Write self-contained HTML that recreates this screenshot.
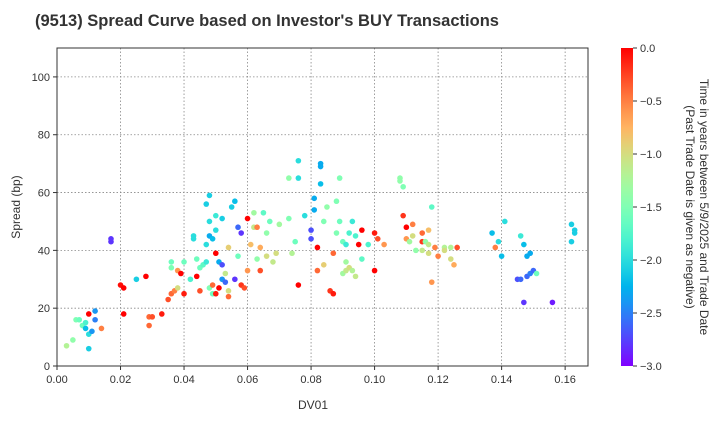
<!DOCTYPE html>
<html><head><meta charset="utf-8"><style>
body{margin:0;background:#fff;font-family:"Liberation Sans",Arial,sans-serif;}
svg text{font-family:"Liberation Sans",Arial,sans-serif;fill:#333;}
</style></head><body>
<svg id="chart" width="720" height="420" viewBox="0 0 720 420">
<text x="35" y="26" font-size="16.5" font-weight="bold" fill="#222">(9513)   Spread Curve based on Investor's BUY Transactions</text>
<g id="grid"></g>
<g id="pts"></g>
<rect x="57" y="48" width="531" height="318" fill="none" stroke="#333" stroke-width="1"/>
<g id="axes"></g>
<text x="313" y="409" font-size="12" text-anchor="middle">DV01</text>
<text transform="translate(20,207) rotate(-90)" font-size="12" text-anchor="middle">Spread (bp)</text>
<defs><linearGradient id="cg" x1="0" y1="1" x2="0" y2="0"></linearGradient></defs>
<rect x="621" y="48" width="12" height="318" fill="url(#cg)"/>
<g id="cbar"></g>
<text transform="translate(700,207) rotate(90)" font-size="12" text-anchor="middle">Time in years between 5/9/2025 and Trade Date</text>
<text transform="translate(686,207) rotate(90)" font-size="12" text-anchor="middle">(Past Trade Date is given as negative)</text>
</svg>
<script>
const xTicks=[0,0.02,0.04,0.06,0.08,0.10,0.12,0.14,0.16];
const xTickLabels=["0.00","0.02","0.04","0.06","0.08","0.10","0.12","0.14","0.16"];
const yTicks=[0,20,40,60,80,100];
const cTicks=[0,-0.5,-1,-1.5,-2,-2.5,-3];
const cTickLabels=["0.0","−0.5","−1.0","−1.5","−2.0","−2.5","−3.0"];
const dv01=[0.003,0.005,0.006,0.007,0.008,0.009,0.009,0.010,0.010,0.010,0.011,0.012,0.012,0.014,0.017,0.017,0.020,0.021,0.021,0.025,0.028,0.029,0.029,0.030,0.033,0.035,0.036,0.037,0.036,0.036,0.038,0.038,0.039,0.040,0.040,0.042,0.043,0.043,0.044,0.044,0.045,0.045,0.046,0.047,0.047,0.047,0.048,0.048,0.048,0.048,0.049,0.049,0.049,0.050,0.050,0.050,0.050,0.051,0.051,0.052,0.052,0.052,0.053,0.053,0.054,0.054,0.054,0.055,0.056,0.056,0.057,0.057,0.058,0.058,0.059,0.060,0.060,0.061,0.062,0.062,0.063,0.063,0.064,0.064,0.065,0.066,0.066,0.067,0.068,0.069,0.070,0.073,0.073,0.074,0.075,0.076,0.076,0.076,0.078,0.080,0.080,0.081,0.081,0.082,0.082,0.083,0.083,0.083,0.084,0.084,0.085,0.086,0.087,0.087,0.088,0.088,0.089,0.089,0.090,0.090,0.091,0.091,0.091,0.092,0.092,0.093,0.093,0.094,0.094,0.095,0.096,0.096,0.098,0.100,0.100,0.101,0.103,0.108,0.108,0.109,0.109,0.110,0.110,0.111,0.112,0.112,0.113,0.115,0.115,0.115,0.116,0.117,0.117,0.117,0.118,0.118,0.119,0.120,0.122,0.122,0.124,0.124,0.125,0.126,0.137,0.138,0.139,0.140,0.141,0.145,0.146,0.146,0.147,0.147,0.148,0.149,0.148,0.149,0.150,0.151,0.156,0.162,0.163,0.163,0.162];
const spread=[7,9,16,16,14,13,15,11,6,18,12,19,16,13,43,44,28,27,18,30,31,17,14,17,18,23,25,26,34,36,27,33,32,25,36,30,45,44,37,31,26,34,35,36,42,56,59,50,45,27,28,25,44,52,47,39,25,36,27,51,30,35,32,29,41,26,24,55,57,30,38,48,46,28,27,51,33,42,48,53,37,48,41,33,53,38,46,50,36,39,49,65,51,39,43,71,65,28,52,47,44,58,54,41,33,70,69,63,35,50,55,26,25,39,57,46,65,50,43,32,42,36,33,46,34,50,33,31,45,42,47,37,42,46,33,44,42,65,64,62,52,48,44,43,49,45,40,46,43,40,43,47,42,39,55,29,41,38,41,40,41,37,35,41,46,41,43,38,50,30,45,30,22,42,38,39,31,32,33,32,22,49,47,46,43];
const years=[-1.2,-1.4,-1.5,-1.6,-1.6,-2.2,-1.8,-2.0,-2.1,0,-2.4,-2.4,-2.5,-0.5,-2.8,-2.8,-0.05,0,0,-2.1,0,-0.4,-0.4,-0.3,-0.1,-0.3,-0.4,-0.5,-1.5,-1.6,-1.0,-0.6,0,-0.1,-1.6,-1.8,-2.0,-2.0,-1.6,0,-0.3,-1.6,-1.7,-1.9,-2.0,-2.1,-2.1,-2.0,-2.3,-1.5,-0.4,-1.6,-2.2,-1.9,-2.0,0,-0.1,-2.3,0,-2.1,-2.4,-2.7,-1.1,-2.6,-0.9,-1.0,-0.4,-2.1,-2.2,-2.8,-1.6,-2.6,-2.8,-0.2,-0.3,0,-0.6,-0.8,-1.1,-1.3,-1.4,-0.5,-0.7,-0.3,-1.7,-1.0,-1.4,-1.6,-1.1,-1.0,-1.3,-1.4,-1.5,-1.2,-1.6,-2.0,-2.0,0,-2.0,-2.7,-2.7,-2.3,-2.3,0,-0.4,-2.3,-2.3,-2.2,-0.9,-1.5,-1.4,-0.2,-0.1,-0.4,-1.5,-1.5,-1.5,-1.6,-1.6,-1.3,-1.9,-1.3,-1.1,-1.8,-1.0,-1.9,-1.2,-1.1,-1.8,0,0,-1.7,-1.8,-0.1,0,-0.3,-0.6,-1.4,-1.4,-1.5,-0.2,0,-0.6,-1.3,-0.5,-1.0,-1.4,-0.4,-0.2,-1.1,-1.4,-0.8,-1.1,-1.0,-1.7,-0.6,-0.5,-0.5,-1.2,-1.0,-1.2,-1.0,-0.7,-0.3,-2.2,-0.5,-2.0,-2.2,-2.0,-2.7,-1.9,-2.6,-2.8,-2.2,-2.3,-2.3,-2.6,-2.5,-2.6,-1.6,-2.9,-2.1,-2.1,-2.1,-2.1];
const NS="http://www.w3.org/2000/svg";
const X0=57,X1=588,Y0=366,Y1=48;
const XMAX=0.1672;
const xs=v=>X0+(v-0)/(XMAX-0)*(X1-X0);
const ys=v=>Y0-(v-0)/(110-0)*(Y0-Y1);
const cs=v=>Y0-(v+3)/3*(Y0-Y1);
function rainbow(t){const x=(t+3)/3;const c=a=>Math.round(Math.max(0,Math.min(1,a))*255);
return `rgb(${c(Math.abs(2*x-0.5))},${c(Math.sin(Math.PI*x))},${c(Math.abs(Math.cos(Math.PI*x/2)))})`;}
function mk(tag,attrs,parent){const e=document.createElementNS(NS,tag);for(const k in attrs)e.setAttribute(k,attrs[k]);parent.appendChild(e);return e;}
const grid=document.getElementById('grid'),axes=document.getElementById('axes');
xTicks.forEach((v,i)=>{const x=xs(v);
const g=mk('line',{x1:x,x2:x,y1:Y1,y2:Y0,stroke:'#888','stroke-dasharray':'1.5,2','stroke-width':0.8},grid);


mk('line',{x1:x,x2:x,y1:Y0,y2:Y0+4,stroke:'#333'},axes);
const t=mk('text',{x:x,y:Y0+17,'font-size':11,'text-anchor':'middle'},axes);t.textContent=xTickLabels[i];

});
yTicks.forEach(v=>{const y=ys(v);
const g=mk('line',{x1:X0,x2:X1,y1:y,y2:y,stroke:'#888','stroke-dasharray':'1.5,2','stroke-width':0.8},grid);


mk('line',{x1:X0-4,x2:X0,y1:y,y2:y,stroke:'#333'},axes);
const t=mk('text',{x:X0-7,y:y+4,'font-size':11,'text-anchor':'end'},axes);t.textContent=v;

});
const pts=document.getElementById('pts');
dv01.forEach((v,i)=>{const c=mk('circle',{cx:xs(v),cy:ys(spread[i]),r:2.8,fill:rainbow(years[i])},pts);

});
const cg=document.getElementById('cg');
for(let k=0;k<=20;k++){const t=-3+3*k/20;mk('stop',{offset:(k/20),'stop-color':rainbow(t)},cg);}
const cb=document.getElementById('cbar');
cTicks.forEach((v,i)=>{const y=cs(v);mk('line',{x1:633,x2:637,y1:y,y2:y,stroke:'#333'},cb);
const t=mk('text',{x:640,y:y+4,'font-size':11},cb);t.textContent=cTickLabels[i];

});
</script>
</body></html>
